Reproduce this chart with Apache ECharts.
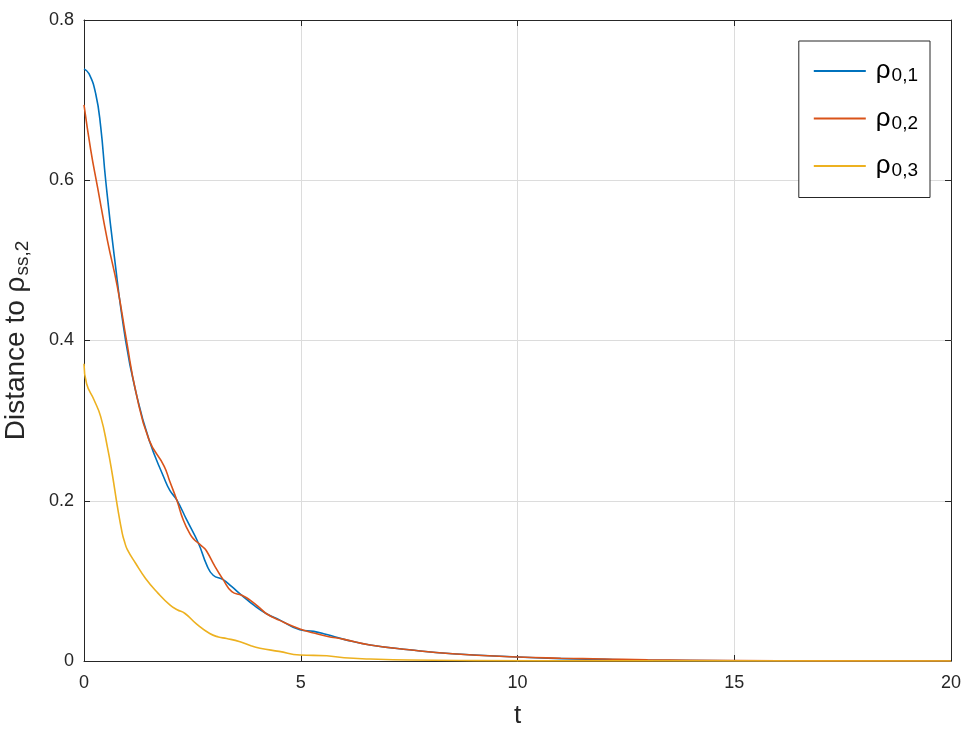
<!DOCTYPE html>
<html><head><meta charset="utf-8">
<script src="https://cdn.jsdelivr.net/npm/echarts@6/dist/echarts.min.js"></script>
<style>html,body{margin:0;padding:0;background:#fff}#c{width:972px;height:742px}</style>
</head><body><div id="c"></div>
<script>
const seriesNames = ['ρ0,1', 'ρ0,2', 'ρ0,3'];
const seriesSubs = ['0,1', '0,2', '0,3'];
const xTicks = [0, 5, 10, 15, 20];
const yTicks = [0, 0.2, 0.4, 0.6, 0.8];
const rho01 = [[0,0.739],[0.115,0.733],[0.27,0.708],[0.385,0.667],[0.5,0.6],[0.69,0.509],[0.96,0.4],[1.2,0.335],[1.5,0.276],[1.85,0.228],[1.98,0.213],[2.14,0.201],[2.37,0.176],[2.64,0.147],[2.83,0.12],[2.98,0.107],[3.21,0.1015],[3.41,0.0927],[3.64,0.082],[3.91,0.07],[4.21,0.059],[4.52,0.051],[4.98,0.039],[5.3,0.037],[5.6,0.033],[6,0.027],[6.6,0.02],[7.5,0.014],[8.5,0.009],[10,0.005],[11,0.003],[12,0.002],[13,0.001],[15,0.0004],[17,0.0001],[20,0]];
const rho02 = [[0,0.694],[0.155,0.638],[0.31,0.592],[0.54,0.525],[0.77,0.467],[0.98,0.4],[1.2,0.335],[1.5,0.276],[1.85,0.243],[1.98,0.224],[2.14,0.201],[2.29,0.176],[2.45,0.158],[2.55,0.151],[2.64,0.147],[2.75,0.142],[2.83,0.137],[3.02,0.118],[3.21,0.1015],[3.41,0.0865],[3.64,0.082],[3.83,0.076],[4.06,0.066],[4.21,0.059],[4.5,0.051],[4.98,0.040],[5.3,0.035],[5.6,0.031],[6,0.027],[6.6,0.02],[7.5,0.014],[8.5,0.009],[10,0.005],[11,0.0035],[12,0.0025],[13,0.0015],[15,0.0006],[17,0.0002],[20,0]];
const rho03 = [[0,0.371],[0.06,0.346],[0.23,0.326],[0.385,0.305],[0.54,0.267],[0.65,0.234],[0.77,0.193],[0.88,0.16],[0.94,0.148],[1.0,0.139],[1.19,0.122],[1.42,0.103],[1.7,0.085],[1.98,0.07],[2.15,0.064],[2.33,0.0593],[2.6,0.046],[2.9,0.0343],[3.1,0.03],[3.29,0.0281],[3.6,0.024],[3.85,0.019],[4.06,0.016],[4.5,0.012],[4.98,0.0075],[5.6,0.0065],[6.0,0.004],[6.6,0.0025],[7.5,0.0012],[9,0.0005],[12,0.0001],[20,0]];
const colors = ['#0072BD', '#D95319', '#EDB120'];
const seriesData = [rho01, rho02, rho03];

const FONT = '"Liberation Sans", Arial, sans-serif';
const axisColor = '#262626';
const chart = echarts.init(document.getElementById('c'));
const baseAxis = {
  axisLine: {show: true, onZero: false, lineStyle: {color: axisColor, width: 1}},
  axisTick: {show: true, inside: true, length: 6, lineStyle: {color: axisColor}},
};
chart.setOption({
  animation: false,
  backgroundColor: '#fff',
  color: colors,
  grid: {left: 84, top: 20, right: 21, bottom: 81, containLabel: false, outerBoundsMode: 'none'},
  legend: {
    orient: 'vertical', right: 42, top: 41,
    icon: 'rect', itemWidth: 52, itemHeight: 2, itemGap: 20,
    padding: [17, 12, 17, 15],
    borderColor: axisColor, borderWidth: 1, backgroundColor: '#fff',
    data: seriesNames,
    formatter: function (name) { const i = seriesNames.indexOf(name); return '{b|ρ}{s|' + seriesSubs[i] + '}'; },
    textStyle: {
      fontFamily: FONT, color: '#000',
      rich: {b: {fontSize: 26, fontFamily: FONT, color: '#000', padding: [0, 0, 0, 5]}, s: {fontSize: 19, fontFamily: FONT, color: '#000', padding: [10, 3, 0, 1]}}
    }
  },
  xAxis: [
    Object.assign({}, baseAxis, {
      type: 'value', min: 0, max: 20, interval: 5, position: 'bottom',
      name: 't', nameLocation: 'middle', nameGap: 42,
      nameTextStyle: {fontFamily: FONT, fontSize: 26, color: '#262626'},
      axisLabel: {fontFamily: FONT, fontSize: 18, color: '#262626', margin: 13,
        formatter: v => (xTicks.includes(v) ? String(v) : '')},
      splitLine: {show: true, lineStyle: {color: '#dcdcdc', width: 1}}
    }),
    Object.assign({}, baseAxis, {
      type: 'value', min: 0, max: 20, interval: 5, position: 'top',
      axisLabel: {show: false}, splitLine: {show: false}
    })
  ],
  yAxis: [
    Object.assign({}, baseAxis, {
      type: 'value', min: 0, max: 0.8, interval: 0.2, position: 'left',
      name: '{b|Distance to ρ}{s|ss,2}', nameLocation: 'middle', nameGap: 52,
      nameTextStyle: {fontFamily: FONT, fontSize: 28, color: '#262626',
        rich: {b: {fontSize: 28, fontFamily: FONT, color: '#262626'}, s: {fontSize: 19, fontFamily: FONT, color: '#262626', padding: [12, 0, 0, 1]}}},
      axisLabel: {fontFamily: FONT, fontSize: 18, color: '#262626', margin: 10,
        formatter: v => { const m = yTicks.find(t => Math.abs(t - v) < 1e-9); return m === undefined ? '' : String(m); }},
      splitLine: {show: true, lineStyle: {color: '#dcdcdc', width: 1}}
    }),
    Object.assign({}, baseAxis, {
      type: 'value', min: 0, max: 0.8, interval: 0.2, position: 'right',
      axisLabel: {show: false}, splitLine: {show: false}
    })
  ],
  series: seriesData.map((d, i) => ({
    name: seriesNames[i], type: 'line', data: d, symbol: 'none', smooth: 0.5,
    xAxisIndex: 0, yAxisIndex: 0,
    lineStyle: {color: colors[i], width: 1.6}, itemStyle: {color: colors[i]}, z: 3 + i
  }))
});
</script></body></html>
